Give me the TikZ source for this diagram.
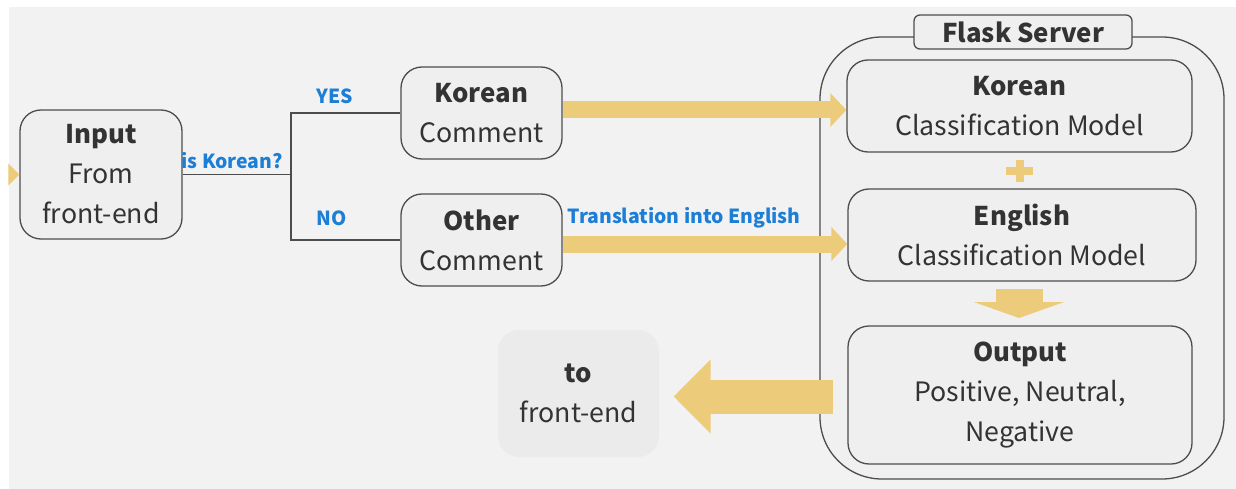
\documentclass[tikz,border=0pt]{standalone}
\usepackage{fontspec}
\setmainfont{Noto Sans CJK KR}
\usetikzlibrary{arrows.meta}
\definecolor{bgc}{HTML}{F2F2F2}
\definecolor{boxc}{HTML}{EFEFEF}
\definecolor{linec}{HTML}{4D4D4D}
\definecolor{txtc}{HTML}{333333}
\definecolor{yel}{HTML}{ECCB7B}
\definecolor{blu}{HTML}{1C7ED6}
\definecolor{tofec}{HTML}{EBEBEB}
\newcommand{\hd}[1]{{\fontsize{25.8}{40}\selectfont\bfseries #1}}
\begin{document}
\begin{tikzpicture}[x=1pt,y=-1pt,
  box/.style={draw=linec,line width=1.3pt,fill=boxc,rounded corners=21pt,align=center,text=txtc,
    font=\fontsize{26.7}{40}\selectfont,inner sep=0pt},
  lbl/.style={text=blu,font=\fontsize{19.4}{22}\selectfont\bfseries,inner sep=0pt},
  conn/.style={draw=linec,line width=1.3pt},
  bigarrow/.style={draw=yel,line width=17pt,-{Triangle[width=33pt,length=16pt]}},
]
\useasboundingbox (0,0) rectangle (1236,489);
\fill[white] (0,0) rectangle (1236,489);
\fill[bgc] (9,7) rectangle (1236,489);

% Flask server container
\draw[linec,line width=1.3pt,fill=boxc!60!bgc,rounded corners=62pt] (820,37) rectangle (1224,479);
\node[box,rounded corners=6pt,minimum width=218pt,minimum height=34pt] (title) at (1023,32) {\hd{Flask Server}};

% boxes
\node[box,minimum width=162pt,minimum height=129pt] (in) at (101,174.5) {\hd{Input}\\From\\front-end};
\node[box,minimum width=161pt,minimum height=92pt] (kc) at (481.5,113) {\hd{Korean}\\Comment};
\node[box,minimum width=161pt,minimum height=92pt] (oc) at (481.5,240) {\hd{Other}\\Comment};
\node[box,minimum width=345pt,minimum height=92pt] (km) at (1019.5,106) {\hd{Korean}\\Classification Model};
\node[box,minimum width=348pt,minimum height=92pt] (em) at (1022,235) {\hd{English}\\Classification Model};
\node[box,minimum width=344pt,minimum height=138pt] (out) at (1020,395) {\hd{Output}\\Positive, Neutral,\\Negative};
\node[box,draw=none,fill=tofec,minimum width=161pt,minimum height=127pt] (tofe) at (578.5,393.5) {\hd{to}\\front-end};

% connectors
\coordinate (br) at (291,174.5);
\draw[conn] (in.east) -- (br);
\draw[conn] (kc.west) -| (br) |- (oc.west);
\node[lbl] (isk) at (232,161) {is Korean?};
\node[lbl] (yes) at (335,96) {YES};
\node[lbl] (no) at (332,218) {NO};
\node[lbl] (tr) at (684,218) {Translation into English};

% yellow arrows
\draw[bigarrow] ([yshift=3pt]kc.east) -- ([yshift=3pt]kc.east -| km.west);
\draw[bigarrow] ([yshift=-4pt]oc.east) -- ([yshift=-4pt]oc.east -| em.west);
\coordinate (dtop) at (1019,289);
\coordinate (dbot) at (1019,318);
\draw[draw=yel,line width=47pt,-{Triangle[width=90pt,length=16pt]}] (dtop) -- (dbot);
\draw[draw=yel,line width=34pt,-{Triangle[width=72pt,length=37pt]}] ([xshift=-14pt]out.west |- 0,396.5) -- ([xshift=14pt]tofe.east |- 0,396.5);
\fill[yel] (in.west) -- ++(-11,-11) -- ++(0,22) -- cycle;
% plus
\fill[yel] (1006,167) rectangle (1033,175);
\fill[yel] (1015.5,160) rectangle (1023.5,182);
\end{tikzpicture}
\end{document}
